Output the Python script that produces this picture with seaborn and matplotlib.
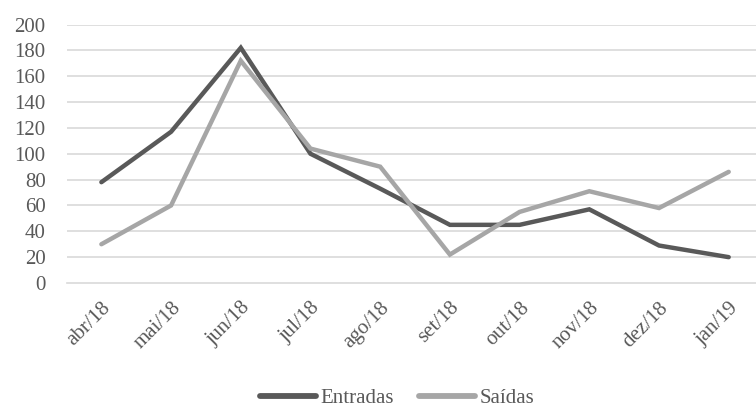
import matplotlib
matplotlib.use("Agg")
import matplotlib.pyplot as plt
import seaborn as sns
import pandas as pd

months = ["abr/18", "mai/18", "jun/18", "jul/18", "ago/18",
          "set/18", "out/18", "nov/18", "dez/18", "jan/19"]
entradas = [78, 117, 182, 100, 73, 45, 45, 57, 29, 20]
saidas = [30, 60, 172, 104, 90, 22, 55, 71, 58, 86]
series_names = ["Entradas", "Saídas"]
y_ticks = list(range(0, 201, 20))

df = pd.DataFrame({
    "mes": months * 2,
    "pos": list(range(len(months))) * 2,
    "valor": entradas + saidas,
    "serie": [series_names[0]] * len(months) + [series_names[1]] * len(months),
})

sns.set_theme(style="white")
plt.rcParams["font.family"] = ["Liberation Serif", "DejaVu Serif"]

text_color = "#595959"
grid_color = "#D9D9D9"
palette = {"Entradas": "#595959", "Saídas": "#A6A6A6"}
font_size = 15

fig = plt.figure(figsize=(7.56, 4.12), dpi=100)
ax = fig.add_axes([0.088, 0.3131, 0.922, 0.6274])

sns.lineplot(data=df, x="pos", y="valor", hue="serie", hue_order=series_names,
             palette=palette, linewidth=3.2, ax=ax, legend=False,
             solid_capstyle="round", solid_joinstyle="miter")

ax.set_xlim(-0.5, len(months) - 0.5)
ax.set_ylim(0, 200)
ax.set_yticks(y_ticks)
ax.set_yticklabels([str(v) for v in y_ticks])
for v in y_ticks[1:]:
    ax.axhline(v, color=grid_color, linewidth=1.2, zorder=0)

# category boundaries carry the tick marks, labels sit under the category centres
ax.set_xticks([i - 0.5 for i in range(len(months) + 1)])
ax.set_xticklabels([])
ax.set_xticks(range(len(months)), minor=True)
ax.set_xticklabels(months, minor=True, rotation=45, ha="right",
                   rotation_mode="anchor", fontsize=font_size, color=text_color)
ax.tick_params(axis="x", which="major", length=5, width=1.2, color=grid_color,
               direction="out", pad=2)
ax.tick_params(axis="x", which="minor", length=0, pad=11)
ax.tick_params(axis="y", length=0, pad=15, labelsize=font_size,
               labelcolor=text_color)

for side in ["top", "right", "left"]:
    ax.spines[side].set_visible(False)
ax.spines["bottom"].set_color(grid_color)
ax.spines["bottom"].set_linewidth(1.2)
ax.set_xlabel("")
ax.set_ylabel("")

handles = [plt.Line2D([0], [0], color=palette[n], linewidth=4.2,
                      solid_capstyle="round") for n in series_names]
fig.legend(handles, series_names, loc="center", bbox_to_anchor=(0.525, 0.033),
           ncol=2, frameon=False, fontsize=font_size, labelcolor=text_color,
           handlelength=2.7, handletextpad=0.2, columnspacing=1.2,
           borderaxespad=0, borderpad=0)

fig.savefig("out.png", dpi=100)
